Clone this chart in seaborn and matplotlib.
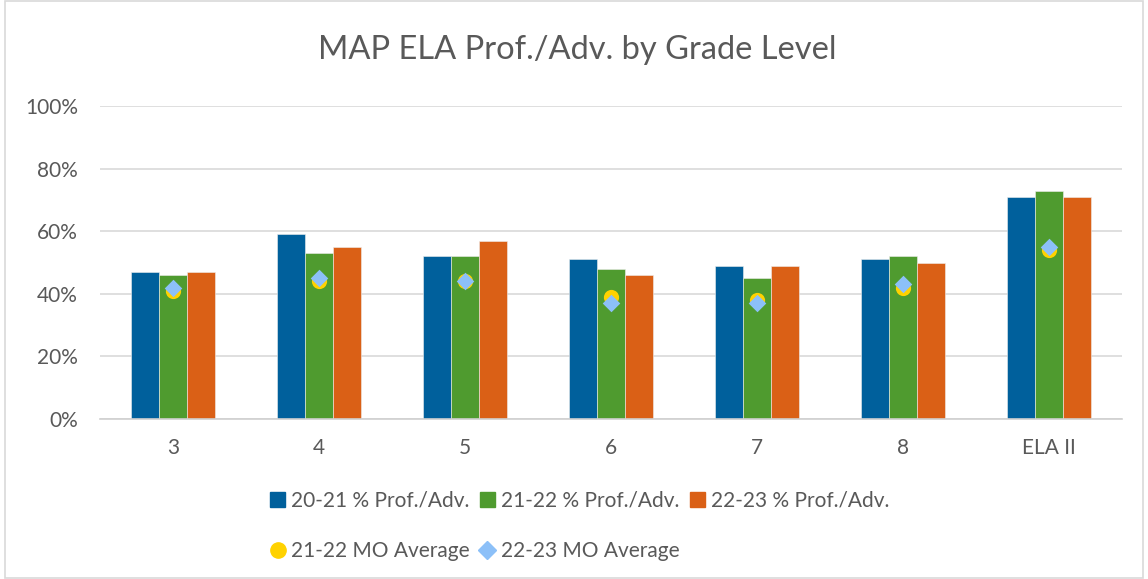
import numpy as np
import pandas as pd
import matplotlib
matplotlib.use('Agg')
import matplotlib.pyplot as plt
import seaborn as sns
from matplotlib.lines import Line2D
from matplotlib.patches import Rectangle

# chart values (percent)
grades = ['3', '4', '5', '6', '7', '8', 'ELA II']
prof_2021 = [47, 59, 52, 51, 49, 51, 71]
prof_2122 = [46, 53, 52, 48, 45, 52, 73]
prof_2223 = [47, 55, 57, 46, 49, 50, 71]
mo_avg_2122 = [41, 44, 44, 39, 38, 42, 54]
mo_avg_2223 = [42, 45, 44, 37, 37, 43, 55]

series_names = ['20-21 % Prof./Adv.', '21-22 % Prof./Adv.', '22-23 % Prof./Adv.']

colors = {
    'blue': '#00609C',
    'green': '#4F9B2F',
    'orange': '#DA6016',
    'gold': '#FFD200',
    'lightblue': '#8CC0F8',
    'text': '#595959',
    'grid': '#D9D9D9',
}

# long form table for seaborn
df = pd.DataFrame({
    'grade': grades * 3,
    'series': np.repeat(series_names, len(grades)),
    'value': np.array(prof_2021 + prof_2122 + prof_2223) / 100,
})

sns.set_theme(style='white')
plt.rcParams['font.family'] = ['Lato', 'DejaVu Sans']

fig = plt.figure(figsize=(11.48, 5.79), dpi=100)
ax = fig.add_axes([0.0871, 0.2763, 0.8903, 0.5406])

sns.barplot(data=df, x='grade', y='value', hue='series', order=grades,
            hue_order=series_names, saturation=1,
            palette=[colors['blue'], colors['green'], colors['orange']],
            width=0.58, edgecolor='#EEEEEE', linewidth=0.4, legend=False, ax=ax, zorder=2)

xpos = np.arange(len(grades))
ax.scatter(xpos, np.array(mo_avg_2122) / 100, s=120, marker='o', color=colors['gold'], zorder=4, linewidths=0)
ax.scatter(xpos, np.array(mo_avg_2223) / 100, s=80, marker='D', color=colors['lightblue'], zorder=5, linewidths=0)

ax.set_ylim(0, 1)
ax.set_xlim(-0.5, len(grades) - 0.5)
ax.set_yticks(np.arange(0, 1.01, 0.2))
ax.set_yticklabels([f'{int(v * 100)}%' for v in np.arange(0, 1.01, 0.2)])
ax.grid(axis='y', color=colors['grid'], linewidth=1.2, zorder=0)
ax.set_axisbelow(True)
for s in ['top', 'right', 'left']:
    ax.spines[s].set_visible(False)
ax.spines['bottom'].set_color('#D0D0D0')
ax.spines['bottom'].set_linewidth(1.2)
ax.tick_params(axis='both', length=0, labelsize=15, colors=colors['text'])
ax.tick_params(axis='y', pad=16)
ax.tick_params(axis='x', pad=14)
ax.set_xlabel('')
ax.set_ylabel('')

fig.text(0.503, 1 - 50 / 579, 'MAP ELA Prof./Adv. by Grade Level', ha='center', va='center',
         fontsize=23.5, color=colors['text'])

# legend, row-wise order in 3 columns
h_bars = [Rectangle((0, 0), 1, 1, color=colors[c]) for c in ['blue', 'green', 'orange']]
h_gold = Line2D([], [], marker='o', linestyle='none', color=colors['gold'], markersize=11)
h_dia = Line2D([], [], marker='D', linestyle='none', color=colors['lightblue'], markersize=9)
handles = [h_bars[0], h_gold, h_bars[1], h_dia, h_bars[2]]
labels = [series_names[0], '21-22 MO Average', series_names[1], '22-23 MO Average', series_names[2]]
fig.legend(handles, labels, ncol=3, loc='center', bbox_to_anchor=(0.505, 1 - 526 / 579),
           frameon=False, fontsize=15, labelcolor=colors['text'], handlelength=0.7,
           handleheight=0.7, handletextpad=0.3, columnspacing=0.5, labelspacing=1.45)

# outer chart border
fig.patches.append(Rectangle((0.004, 0.002), 0.992, 0.996, transform=fig.transFigure,
                             fill=False, edgecolor='#D9D9D9', linewidth=1.2))

fig.savefig('out.png', dpi=100)
